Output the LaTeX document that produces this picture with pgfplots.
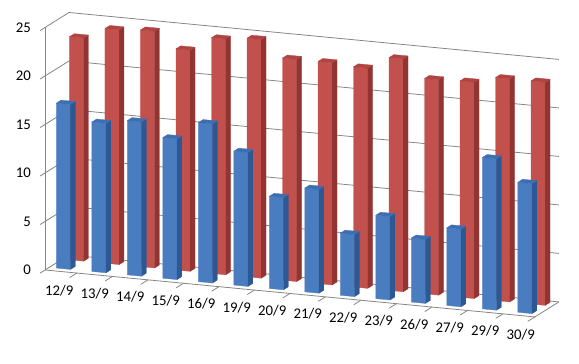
\documentclass[border=0pt]{standalone}
\usepackage{pgfplots}
\pgfplotsset{compat=1.18}
\usepackage{fontspec}
\setmainfont{Carlito}
\definecolor{gridc}{RGB}{134,134,134}
\definecolor{bF}{RGB}{74,124,192}
\definecolor{bS}{RGB}{44,88,148}
\definecolor{bT}{RGB}{62,110,178}
\definecolor{rF}{RGB}{194,80,77}
\definecolor{rS}{RGB}{146,52,50}
\definecolor{rT}{RGB}{176,68,66}
\newcommand\lab{\fontsize{14.8}{17}\selectfont}
\begin{document}
\begin{tikzpicture}
\begin{axis}[
  x={(35.5pt,-3.4pt)}, y={(12pt,7.5pt)}, z={(0pt,9.7pt)},
  xmin=-0.4, xmax=13.4, ymin=0, ymax=2, zmin=0, zmax=25,
  hide axis, clip=false,
  grd/.style={gridc, line width=0.8pt, no marks},
  bars/.style={patch, patch type=rectangle, shader=faceted, line width=0.3pt},
]
\coordinate (O) at (axis cs:-0.4,0,0);
% grid lines on side wall and back wall
\addplot3[grd] coordinates {(-0.4,-0.4,0) (-0.4,2,0) (13.4,2,0)};
\addplot3[grd] coordinates {(-0.4,-0.4,5) (-0.4,2,5) (13.4,2,5)};
\addplot3[grd] coordinates {(-0.4,-0.4,10) (-0.4,2,10) (13.4,2,10)};
\addplot3[grd] coordinates {(-0.4,-0.4,15) (-0.4,2,15) (13.4,2,15)};
\addplot3[grd] coordinates {(-0.4,-0.4,20) (-0.4,2,20) (13.4,2,20)};
\addplot3[grd] coordinates {(-0.4,-0.4,25) (-0.4,2,25) (13.4,2,25)};
\addplot3[grd] coordinates {(-0.4,0,0) (-0.4,0,25)};
% red series (back row)
\addplot3[bars, faceted color=rF, colormap={rf}{rgb255=(194,80,77) rgb255=(194,80,77)}] coordinates {
(-0.2,1.45,0) (0.2,1.45,0) (0.2,1.45,23.0) (-0.2,1.45,23.0)
(0.8,1.45,0) (1.2,1.45,0) (1.2,1.45,24.2) (0.8,1.45,24.2)
(1.8,1.45,0) (2.2,1.45,0) (2.2,1.45,24.4) (1.8,1.45,24.4)
(2.8,1.45,0) (3.2,1.45,0) (3.2,1.45,22.8) (2.8,1.45,22.8)
(3.8,1.45,0) (4.2,1.45,0) (4.2,1.45,24.3) (3.8,1.45,24.3)
(4.8,1.45,0) (5.2,1.45,0) (5.2,1.45,24.6) (4.8,1.45,24.6)
(5.8,1.45,0) (6.2,1.45,0) (6.2,1.45,22.9) (5.8,1.45,22.9)
(6.8,1.45,0) (7.2,1.45,0) (7.2,1.45,22.9) (6.8,1.45,22.9)
(7.8,1.45,0) (8.2,1.45,0) (8.2,1.45,22.7) (7.8,1.45,22.7)
(8.8,1.45,0) (9.2,1.45,0) (9.2,1.45,24.0) (8.8,1.45,24.0)
(9.8,1.45,0) (10.2,1.45,0) (10.2,1.45,22.2) (9.8,1.45,22.2)
(10.8,1.45,0) (11.2,1.45,0) (11.2,1.45,22.3) (10.8,1.45,22.3)
(11.8,1.45,0) (12.2,1.45,0) (12.2,1.45,23.0) (11.8,1.45,23.0)
(12.8,1.45,0) (13.2,1.45,0) (13.2,1.45,23.0) (12.8,1.45,23.0)
};
\addplot3[bars, faceted color=rS, colormap={rs}{rgb255=(146,52,50) rgb255=(146,52,50)}] coordinates {
(0.2,1.45,0) (0.2,1.85,0) (0.2,1.85,23.0) (0.2,1.45,23.0)
(1.2,1.45,0) (1.2,1.85,0) (1.2,1.85,24.2) (1.2,1.45,24.2)
(2.2,1.45,0) (2.2,1.85,0) (2.2,1.85,24.4) (2.2,1.45,24.4)
(3.2,1.45,0) (3.2,1.85,0) (3.2,1.85,22.8) (3.2,1.45,22.8)
(4.2,1.45,0) (4.2,1.85,0) (4.2,1.85,24.3) (4.2,1.45,24.3)
(5.2,1.45,0) (5.2,1.85,0) (5.2,1.85,24.6) (5.2,1.45,24.6)
(6.2,1.45,0) (6.2,1.85,0) (6.2,1.85,22.9) (6.2,1.45,22.9)
(7.2,1.45,0) (7.2,1.85,0) (7.2,1.85,22.9) (7.2,1.45,22.9)
(8.2,1.45,0) (8.2,1.85,0) (8.2,1.85,22.7) (8.2,1.45,22.7)
(9.2,1.45,0) (9.2,1.85,0) (9.2,1.85,24.0) (9.2,1.45,24.0)
(10.2,1.45,0) (10.2,1.85,0) (10.2,1.85,22.2) (10.2,1.45,22.2)
(11.2,1.45,0) (11.2,1.85,0) (11.2,1.85,22.3) (11.2,1.45,22.3)
(12.2,1.45,0) (12.2,1.85,0) (12.2,1.85,23.0) (12.2,1.45,23.0)
(13.2,1.45,0) (13.2,1.85,0) (13.2,1.85,23.0) (13.2,1.45,23.0)
};
\addplot3[bars, faceted color=rT, colormap={rt}{rgb255=(176,68,66) rgb255=(176,68,66)}] coordinates {
(-0.2,1.45,23.0) (0.2,1.45,23.0) (0.2,1.85,23.0) (-0.2,1.85,23.0)
(0.8,1.45,24.2) (1.2,1.45,24.2) (1.2,1.85,24.2) (0.8,1.85,24.2)
(1.8,1.45,24.4) (2.2,1.45,24.4) (2.2,1.85,24.4) (1.8,1.85,24.4)
(2.8,1.45,22.8) (3.2,1.45,22.8) (3.2,1.85,22.8) (2.8,1.85,22.8)
(3.8,1.45,24.3) (4.2,1.45,24.3) (4.2,1.85,24.3) (3.8,1.85,24.3)
(4.8,1.45,24.6) (5.2,1.45,24.6) (5.2,1.85,24.6) (4.8,1.85,24.6)
(5.8,1.45,22.9) (6.2,1.45,22.9) (6.2,1.85,22.9) (5.8,1.85,22.9)
(6.8,1.45,22.9) (7.2,1.45,22.9) (7.2,1.85,22.9) (6.8,1.85,22.9)
(7.8,1.45,22.7) (8.2,1.45,22.7) (8.2,1.85,22.7) (7.8,1.85,22.7)
(8.8,1.45,24.0) (9.2,1.45,24.0) (9.2,1.85,24.0) (8.8,1.85,24.0)
(9.8,1.45,22.2) (10.2,1.45,22.2) (10.2,1.85,22.2) (9.8,1.85,22.2)
(10.8,1.45,22.3) (11.2,1.45,22.3) (11.2,1.85,22.3) (10.8,1.85,22.3)
(11.8,1.45,23.0) (12.2,1.45,23.0) (12.2,1.85,23.0) (11.8,1.85,23.0)
(12.8,1.45,23.0) (13.2,1.45,23.0) (13.2,1.85,23.0) (12.8,1.85,23.0)
};
% blue series (front row)
\addplot3[bars, faceted color=bF, colormap={bf}{rgb255=(74,124,192) rgb255=(74,124,192)}] coordinates {
(-0.2,0.35,0) (0.2,0.35,0) (0.2,0.35,17.0) (-0.2,0.35,17.0)
(0.8,0.35,0) (1.2,0.35,0) (1.2,0.35,15.4) (0.8,0.35,15.4)
(1.8,0.35,0) (2.2,0.35,0) (2.2,0.35,15.9) (1.8,0.35,15.9)
(2.8,0.35,0) (3.2,0.35,0) (3.2,0.35,14.5) (2.8,0.35,14.5)
(3.8,0.35,0) (4.2,0.35,0) (4.2,0.35,16.4) (3.8,0.35,16.4)
(4.8,0.35,0) (5.2,0.35,0) (5.2,0.35,13.8) (4.8,0.35,13.8)
(5.8,0.35,0) (6.2,0.35,0) (6.2,0.35,9.5) (5.8,0.35,9.5)
(6.8,0.35,0) (7.2,0.35,0) (7.2,0.35,10.7) (6.8,0.35,10.7)
(7.8,0.35,0) (8.2,0.35,0) (8.2,0.35,6.4) (7.8,0.35,6.4)
(8.8,0.35,0) (9.2,0.35,0) (9.2,0.35,8.6) (8.8,0.35,8.6)
(9.8,0.35,0) (10.2,0.35,0) (10.2,0.35,6.6) (9.8,0.35,6.6)
(10.8,0.35,0) (11.2,0.35,0) (11.2,0.35,8.0) (10.8,0.35,8.0)
(11.8,0.35,0) (12.2,0.35,0) (12.2,0.35,15.6) (11.8,0.35,15.6)
(12.8,0.35,0) (13.2,0.35,0) (13.2,0.35,13.4) (12.8,0.35,13.4)
};
\addplot3[bars, faceted color=bS, colormap={bs}{rgb255=(44,88,148) rgb255=(44,88,148)}] coordinates {
(0.2,0.35,0) (0.2,0.75,0) (0.2,0.75,17.0) (0.2,0.35,17.0)
(1.2,0.35,0) (1.2,0.75,0) (1.2,0.75,15.4) (1.2,0.35,15.4)
(2.2,0.35,0) (2.2,0.75,0) (2.2,0.75,15.9) (2.2,0.35,15.9)
(3.2,0.35,0) (3.2,0.75,0) (3.2,0.75,14.5) (3.2,0.35,14.5)
(4.2,0.35,0) (4.2,0.75,0) (4.2,0.75,16.4) (4.2,0.35,16.4)
(5.2,0.35,0) (5.2,0.75,0) (5.2,0.75,13.8) (5.2,0.35,13.8)
(6.2,0.35,0) (6.2,0.75,0) (6.2,0.75,9.5) (6.2,0.35,9.5)
(7.2,0.35,0) (7.2,0.75,0) (7.2,0.75,10.7) (7.2,0.35,10.7)
(8.2,0.35,0) (8.2,0.75,0) (8.2,0.75,6.4) (8.2,0.35,6.4)
(9.2,0.35,0) (9.2,0.75,0) (9.2,0.75,8.6) (9.2,0.35,8.6)
(10.2,0.35,0) (10.2,0.75,0) (10.2,0.75,6.6) (10.2,0.35,6.6)
(11.2,0.35,0) (11.2,0.75,0) (11.2,0.75,8.0) (11.2,0.35,8.0)
(12.2,0.35,0) (12.2,0.75,0) (12.2,0.75,15.6) (12.2,0.35,15.6)
(13.2,0.35,0) (13.2,0.75,0) (13.2,0.75,13.4) (13.2,0.35,13.4)
};
\addplot3[bars, faceted color=bT, colormap={bt}{rgb255=(62,110,178) rgb255=(62,110,178)}] coordinates {
(-0.2,0.35,17.0) (0.2,0.35,17.0) (0.2,0.75,17.0) (-0.2,0.75,17.0)
(0.8,0.35,15.4) (1.2,0.35,15.4) (1.2,0.75,15.4) (0.8,0.75,15.4)
(1.8,0.35,15.9) (2.2,0.35,15.9) (2.2,0.75,15.9) (1.8,0.75,15.9)
(2.8,0.35,14.5) (3.2,0.35,14.5) (3.2,0.75,14.5) (2.8,0.75,14.5)
(3.8,0.35,16.4) (4.2,0.35,16.4) (4.2,0.75,16.4) (3.8,0.75,16.4)
(4.8,0.35,13.8) (5.2,0.35,13.8) (5.2,0.75,13.8) (4.8,0.75,13.8)
(5.8,0.35,9.5) (6.2,0.35,9.5) (6.2,0.75,9.5) (5.8,0.75,9.5)
(6.8,0.35,10.7) (7.2,0.35,10.7) (7.2,0.75,10.7) (6.8,0.75,10.7)
(7.8,0.35,6.4) (8.2,0.35,6.4) (8.2,0.75,6.4) (7.8,0.75,6.4)
(8.8,0.35,8.6) (9.2,0.35,8.6) (9.2,0.75,8.6) (8.8,0.75,8.6)
(9.8,0.35,6.6) (10.2,0.35,6.6) (10.2,0.75,6.6) (9.8,0.75,6.6)
(10.8,0.35,8.0) (11.2,0.35,8.0) (11.2,0.75,8.0) (10.8,0.75,8.0)
(11.8,0.35,15.6) (12.2,0.35,15.6) (12.2,0.75,15.6) (11.8,0.75,15.6)
(12.8,0.35,13.4) (13.2,0.35,13.4) (13.2,0.75,13.4) (12.8,0.75,13.4)
};
% floor edges and ticks
\addplot3[grd] coordinates {(-0.4,0,0) (13.4,0,0) (13.4,2,0)};
\pgfplotsinvokeforeach{0.5,1.5,2.5,3.5,4.5,5.5,6.5,7.5,8.5,9.5,10.5,11.5,12.5,13.4}{
  \draw[gridc, line width=0.8pt] (axis cs:#1,0,0) -- (axis cs:#1,-0.6,0);
}
% z tick labels
\pgfplotsinvokeforeach{0,5,10,15,20,25}{
  \node[anchor=east, font=\lab, inner sep=1pt, xshift=-13pt] at (axis cs:-0.4,0,#1) {#1};
}
% category labels
\node[anchor=north, font=\lab, yshift=-10pt] at (axis cs:0,0,0) {12/9};
\node[anchor=north, font=\lab, yshift=-10pt] at (axis cs:1,0,0) {13/9};
\node[anchor=north, font=\lab, yshift=-10pt] at (axis cs:2,0,0) {14/9};
\node[anchor=north, font=\lab, yshift=-10pt] at (axis cs:3,0,0) {15/9};
\node[anchor=north, font=\lab, yshift=-10pt] at (axis cs:4,0,0) {16/9};
\node[anchor=north, font=\lab, yshift=-10pt] at (axis cs:5,0,0) {19/9};
\node[anchor=north, font=\lab, yshift=-10pt] at (axis cs:6,0,0) {20/9};
\node[anchor=north, font=\lab, yshift=-10pt] at (axis cs:7,0,0) {21/9};
\node[anchor=north, font=\lab, yshift=-10pt] at (axis cs:8,0,0) {22/9};
\node[anchor=north, font=\lab, yshift=-10pt] at (axis cs:9,0,0) {23/9};
\node[anchor=north, font=\lab, yshift=-10pt] at (axis cs:10,0,0) {26/9};
\node[anchor=north, font=\lab, yshift=-10pt] at (axis cs:11,0,0) {27/9};
\node[anchor=north, font=\lab, yshift=-10pt] at (axis cs:12,0,0) {29/9};
\node[anchor=north, font=\lab, yshift=-10pt] at (axis cs:13,0,0) {30/9};
\end{axis}
\pgfresetboundingbox
\path[use as bounding box] (O) ++(-45pt,-94pt) rectangle ++(579pt,364pt);
\end{tikzpicture}
\end{document}
